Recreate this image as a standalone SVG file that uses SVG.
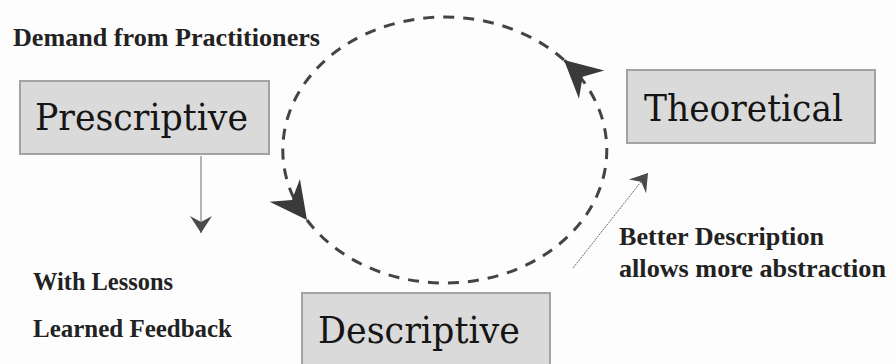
<svg xmlns="http://www.w3.org/2000/svg" width="896" height="364" viewBox="0 0 896 364">
  <defs>
    <style>
      .box { fill: #dadada; stroke: #a3a3a3; stroke-width: 2; }
      .title { font-family: "DejaVu Serif", serif; font-size: 38px; fill: #151515; }
      .label { font-family: "Liberation Serif", serif; font-size: 25px; font-weight: bold; fill: #222; }
      .cycle { fill: none; stroke: #444; stroke-width: 3; stroke-dasharray: 11 9; }
      .thin { fill: none; stroke: #6a6a6a; stroke-width: 1; }
    </style>
    <!-- large barbed head for the dashed cycle -->
    <marker id="bigHead" markerUnits="userSpaceOnUse" markerWidth="42" markerHeight="42" viewBox="-38 -21 42 42" refX="0" refY="0" orient="auto">
      <path d="M0,0 L-37,-19 L-25,0 L-37,19 Z" fill="#3a3a3a"/>
    </marker>
    <!-- small barbed head for the thin arrows -->
    <marker id="smallHead" markerUnits="userSpaceOnUse" markerWidth="20" markerHeight="26" viewBox="-18 -13 20 26" refX="0" refY="0" orient="auto">
      <path d="M0,0 L-17,-11 L-11,0 L-17,11 Z" fill="#4a4a4a"/>
    </marker>
  </defs>

  <rect x="0" y="0" width="896" height="364" fill="#fdfdfd"/>

  <!-- connectors -->
  <g id="connectors">
    <path class="cycle" d="M564,60 A162,133 0 0 0 307,220" marker-end="url(#bigHead)"/>
    <path class="cycle" d="M307,220 A162,133 0 1 0 564,60" marker-end="url(#bigHead)"/>
    <line class="thin" x1="201" y1="156" x2="201" y2="233" marker-end="url(#smallHead)"/>
    <line class="thin" x1="573" y1="268" x2="648" y2="173" stroke-dasharray="2 1" marker-end="url(#smallHead)"/>
  </g>

  <g id="prescriptive">
    <rect class="box" x="20" y="81" width="249" height="73"/>
    <text class="title" x="35" y="130" textLength="213" lengthAdjust="spacingAndGlyphs">Prescriptive</text>
  </g>
  <g id="theoretical">
    <rect class="box" x="627" y="70" width="248" height="73"/>
    <text class="title" x="644" y="121" textLength="199" lengthAdjust="spacingAndGlyphs">Theoretical</text>
  </g>
  <g id="descriptive">
    <rect class="box" x="302" y="293" width="248" height="74"/>
    <text class="title" x="318" y="343" textLength="202" lengthAdjust="spacingAndGlyphs">Descriptive</text>
  </g>

  <g id="labels">
    <text class="label" x="13" y="46" textLength="307" lengthAdjust="spacingAndGlyphs">Demand from Practitioners</text>
    <text class="label" x="33" y="290" textLength="140" lengthAdjust="spacingAndGlyphs">With Lessons</text>
    <text class="label" x="33" y="337" textLength="199" lengthAdjust="spacingAndGlyphs">Learned Feedback</text>
    <text class="label" x="619" y="245" textLength="205" lengthAdjust="spacingAndGlyphs">Better Description</text>
    <text class="label" x="619" y="277" textLength="267" lengthAdjust="spacingAndGlyphs">allows more abstraction</text>
  </g>
</svg>
